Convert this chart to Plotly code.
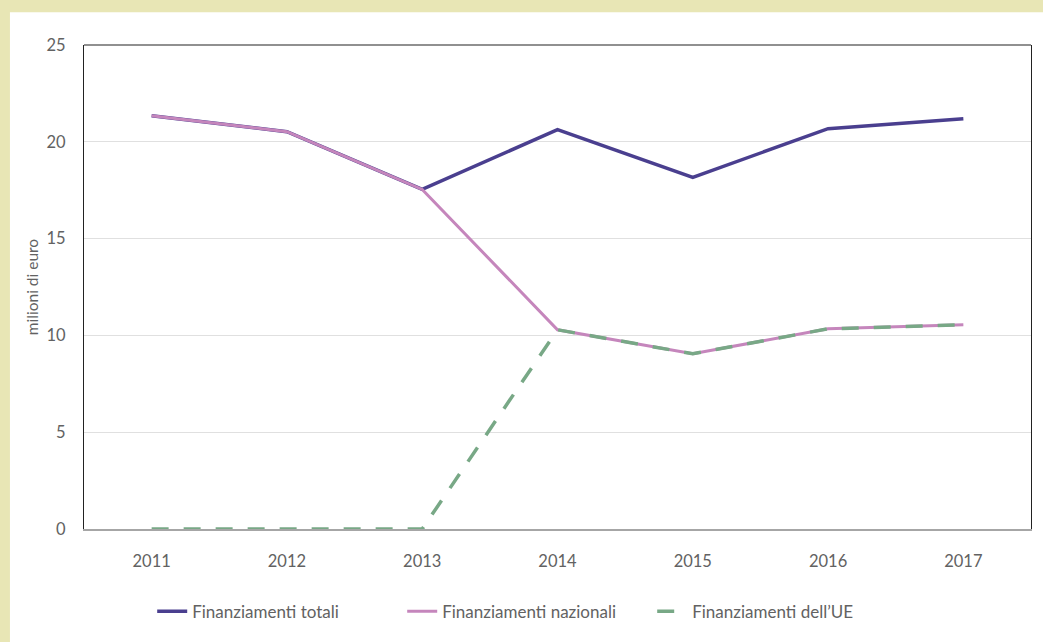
import plotly.graph_objects as go

# Anni e finanziamenti (milioni di euro)
anni = ["2011", "2012", "2013", "2014", "2015", "2016", "2017"]
fin_totali = [21.35, 20.52, 17.54, 20.63, 18.16, 20.68, 21.19]
fin_nazionali = [21.35, 20.52, 17.54, 10.29, 9.05, 10.34, 10.55]
fin_ue = [0, 0, 0, 10.29, 9.05, 10.34, 10.55]

y_ticks = [0, 5, 10, 15, 20, 25]

TEXT = "#626262"
FONT = "Lato"

fig = go.Figure()
fig.add_trace(go.Scatter(
    x=anni, y=fin_totali, mode="lines", name="Finanziamenti totali",
    line=dict(color="#4a3f8f", width=3.5),
))
fig.add_trace(go.Scatter(
    x=anni, y=fin_nazionali, mode="lines", name="Finanziamenti nazionali",
    line=dict(color="#c586bc", width=3),
))
fig.add_trace(go.Scatter(
    x=anni, y=fin_ue, mode="lines", name="Finanziamenti dell\u2019UE",
    line=dict(color="#78a886", width=3.5, dash="17px,15px"),
))

fig.update_layout(
    width=1043, height=642,
    margin=dict(l=84, r=12, t=45, b=111),
    paper_bgcolor="#e8e6b5",
    plot_bgcolor="white",
    font=dict(family=FONT, size=16, color=TEXT),
    showlegend=True,
    legend=dict(
        orientation="h", x=0.468, xanchor="center", y=-0.171, yanchor="middle",
        font=dict(family=FONT, size=17, color=TEXT),
        bgcolor="rgba(0,0,0,0)", itemwidth=30, tracegroupgap=0,
        entrywidth=205,
    ),
    shapes=[
        # riquadro bianco del grafico
        dict(type="rect", xref="paper", yref="paper", x0=-0.0782, x1=1.02,
             y0=-0.24, y1=1.0679, fillcolor="white", line=dict(width=0),
             layer="below"),
        # bordo superiore dell'area del grafico
        dict(type="line", xref="paper", yref="paper", x0=0, x1=1, y0=1, y1=1,
             line=dict(color="#222222", width=1.2)),
    ],
)

fig.update_xaxes(
    type="category", showgrid=False, showline=True, linecolor="#a6a6a6",
    linewidth=1.5, ticks="", ticklabelstandoff=16,
    tickfont=dict(family=FONT, size=16.5, color=TEXT), range=[-0.5, 6.5],
)
fig.update_yaxes(
    range=[0, 25], tickvals=y_ticks, showgrid=True, gridcolor="#e0e0e0",
    gridwidth=1, zeroline=False, showline=True, linecolor="#222222",
    linewidth=1.2, mirror=True, ticks="", ticklabelstandoff=14,
    tickfont=dict(family=FONT, size=16.5, color=TEXT),
    title=dict(text="milioni di euro", font=dict(family=FONT, size=15.5, color=TEXT),
               standoff=4),
)

fig.write_html("out.html")
